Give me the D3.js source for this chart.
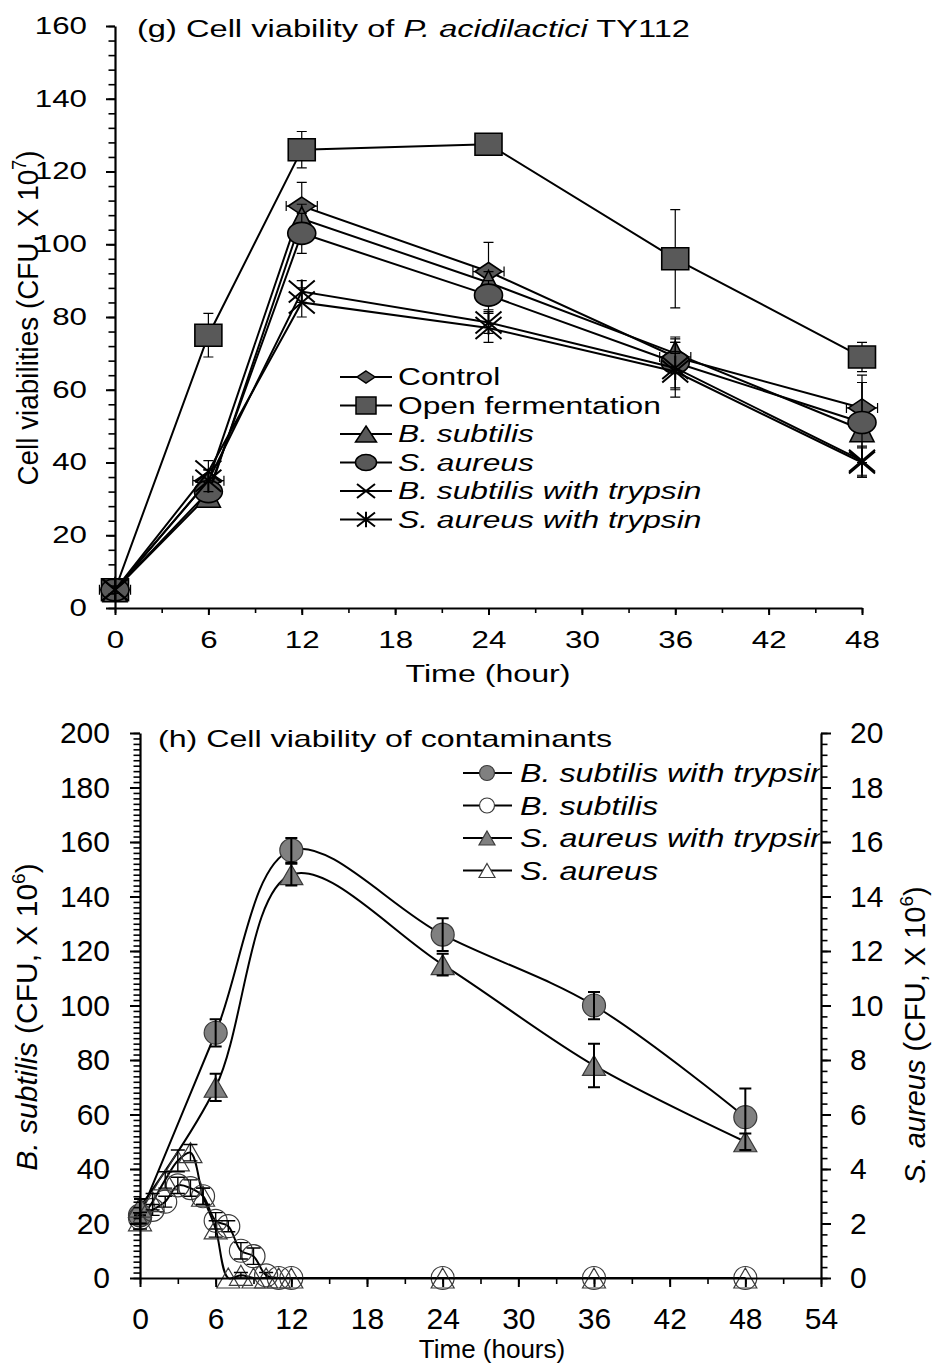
<!DOCTYPE html>
<html>
<head>
<meta charset="utf-8">
<script src="https://cdn.jsdelivr.net/npm/d3@7"></script>
<style>
body { margin: 0; background: #fff; }
text { font-family: Arial, "Liberation Sans", sans-serif; fill: #000; }
</style>
</head>
<body>
<div id="chart"></div>
<script>
// ---------- (g) cell viability of P. acidilactici TY112 ----------
const topHours = [0, 6, 12, 24, 36, 48];
const controlVals = [5, 35, 110.5, 92.5, 69, 55];
const controlErr = [1, 3, 6.5, 8, 4, 9];
const controlHourErr = [1, 1, 1, 1, 1, 1];
const openFermVals = [5, 75, 126, 127.5, 96, 69];
const openFermErr = [1, 6, 5, 1.5, 13.5, 4];
const bSubVals = [5, 31, 107, 89.5, 70, 49];
const bSubErr = [1, 2, 4, 3, 3, 13];
const sAurVals = [5, 32, 103, 86, 67.5, 51];
const sAurErr = [1, 2, 5.5, 4, 7, 11];
const bSubTrypVals = [5, 37.5, 84, 77, 65, 40];
const bSubTrypErr = [1, 3, 4, 4, 5, 4];
const sAurTrypVals = [5, 35, 87, 78.5, 66, 40.5];
const sAurTrypErr = [1, 3, 3, 3, 8, 4];
const topYTicks = [0, 20, 40, 60, 80, 100, 120, 140, 160];
const topXTicks = [0, 6, 12, 18, 24, 30, 36, 42, 48];

// ---------- (h) cell viability of contaminants ----------
const hoursFine = [0, 1, 2, 3, 4, 5, 6, 7, 8, 9, 10, 11, 12, 24, 36, 48];
const hoursMain = [0, 6, 12, 24, 36, 48];
const bSubTrypsin = [23, 90, 157, 126, 100, 59];          // left axis
const bSubTrypsinErr = [3, 5, 4.5, 6, 5, 10.5];
const bSubPlain = [22, 25, 28, 34, 33, 30, 21, 19, 10, 8, 1, 0, 0, 0, 0, 0];
const bSubPlainErr = [2, 2, 2, 3, 3, 3, 3, 2, 3, 3, 1, 0, 0, 0, 0, 0];
const sAurTrypsin = [2.6, 7.0, 14.8, 11.5, 7.8, 5.0];     // right axis
const sAurTrypsinErr = [0.3, 0.5, 0.4, 0.4, 0.8, 0.3];
const sAurPlain = [2.1, 2.8, 3.6, 4.3, 4.6, 3.0, 1.8, 0, 0.1, 0, 0, 0, 0, 0, 0, 0];
const sAurPlainErr = [0.3, 0.3, 0.3, 0.4, 0.3, 0.3, 0.3, 0, 0.1, 0, 0, 0, 0, 0, 0, 0];
const botLeftTicks = [0, 20, 40, 60, 80, 100, 120, 140, 160, 180, 200];
const botRightTicks = [0, 2, 4, 6, 8, 10, 12, 14, 16, 18, 20];
const botXTicks = [0, 6, 12, 18, 24, 30, 36, 42, 48, 54];

const svg = d3.select('#chart').append('svg')
    .attr('width', 936)
    .attr('height', 1366);
svg.append('rect').attr('width', 936).attr('height', 1366).attr('fill', '#fff');

// marker outline centred on 0,0
function shapePath(type, w, h) {
    const a = w / 2, b = h / 2;
    switch (type) {
        case 'diamond': return `M0,${-b}L${a},0L0,${b}L${-a},0Z`;
        case 'square': return `M${-a},${-b}H${a}V${b}H${-a}Z`;
        case 'triangle': return `M0,${-b}L${a},${b}L${-a},${b}Z`;
        case 'circle': return `M${-a},0A${a},${b} 0 1,0 ${a},0A${a},${b} 0 1,0 ${-a},0Z`;
        case 'x': return `M${-a},${-b}L${a},${b}M${a},${-b}L${-a},${b}`;
        case 'star': return `M${-a},${-b}L${a},${b}M${a},${-b}L${-a},${b}M0,${-b * 1.1}V${b * 1.1}`;
    }
}

// stretch text horizontally, the reference fonts are wider than they are tall
function stretch(sel, k) {
    sel.each(function () {
        const len = this.getComputedTextLength();
        d3.select(this).attr('textLength', len * k).attr('lengthAdjust', 'spacingAndGlyphs');
    });
}

function axisWithMinor(g, axisFn, scale, major, minor, majorLen, minorLen, pad) {
    g.append('g')
        .call(axisFn(scale).tickValues(minor).tickSize(minorLen).tickSizeOuter(0).tickFormat(''))
        .call(s => s.select('.domain').remove())
        .call(s => s.selectAll('line').attr('stroke-width', 1.6));
    const main = g.append('g')
        .call(axisFn(scale).tickValues(major).tickSize(majorLen).tickSizeOuter(0).tickPadding(pad));
    main.select('.domain').attr('stroke-width', 2.2);
    main.selectAll('line').attr('stroke-width', 2);
    main.attr('font-family', null).attr('font-size', null);
    return main;
}

// ================= top chart =================
const xT = d3.scaleLinear().domain([0, 48]).range([115, 862]);
const yT = d3.scaleLinear().domain([0, 160]).range([608, 26]);
const topG = svg.append('g');

const topSeries = [
    {name: 'Control', italic: false, vals: controlVals, err: controlErr, xerr: controlHourErr, shape: 'diamond', w: 27, h: 18, lw: 18, lh: 12},
    {name: 'Open fermentation', italic: false, vals: openFermVals, err: openFermErr, shape: 'square', w: 27, h: 22, lw: 20, lh: 17},
    {name: 'B. subtilis', italic: true, vals: bSubVals, err: bSubErr, shape: 'triangle', w: 24, h: 24, lw: 21, lh: 16},
    {name: 'S. aureus', italic: true, vals: sAurVals, err: sAurErr, shape: 'circle', w: 28, h: 22, lw: 21, lh: 16},
    {name: 'B. subtilis with trypsin', italic: true, vals: bSubTrypVals, err: bSubTrypErr, shape: 'x', w: 26, h: 22, lw: 18, lh: 14},
    {name: 'S. aureus with trypsin', italic: true, vals: sAurTrypVals, err: sAurTrypErr, shape: 'star', w: 26, h: 22, lw: 18, lh: 14}
];

const lineT = d3.line().x(d => xT(d[0])).y(d => yT(d[1]));

topSeries.forEach(s => {
    const pts = topHours.map((h, i) => [h, s.vals[i], s.err[i], s.xerr ? s.xerr[i] : 0]);
    const g = topG.append('g');
    g.append('path').datum(pts)
        .attr('d', lineT).attr('fill', 'none').attr('stroke', '#000').attr('stroke-width', 2);
    const eb = g.selectAll('.eb').data(pts).enter().append('g');
    eb.append('path')
        .attr('d', d => {
            const x = xT(d[0]), y1 = yT(d[1] + d[2]), y2 = yT(d[1] - d[2]);
            let p = `M${x},${y1}V${y2}M${x - 5},${y1}H${x + 5}M${x - 5},${y2}H${x + 5}`;
            if (d[3]) {
                const x1 = xT(d[0] - d[3]), x2 = xT(d[0] + d[3]), y = yT(d[1]);
                p += `M${x1},${y}H${x2}M${x1},${y - 5}V${y + 5}M${x2},${y - 5}V${y + 5}`;
            }
            return p;
        })
        .attr('fill', 'none').attr('stroke', '#000').attr('stroke-width', 1.2);
    g.selectAll('.mk').data(pts).enter().append('path')
        .attr('transform', d => `translate(${xT(d[0])},${yT(d[1])})`)
        .attr('d', shapePath(s.shape, s.w, s.h))
        .attr('fill', s.shape === 'x' || s.shape === 'star' ? 'none' : '#595959')
        .attr('stroke', '#000')
        .attr('stroke-width', s.shape === 'x' || s.shape === 'star' ? 2 : 1.6);
});

// top axes
const topYAxis = axisWithMinor(topG.append('g').attr('transform', `translate(${xT(0)},0)`),
    d3.axisLeft, yT, topYTicks, d3.range(0, 161, 4), 9, 6.5, 19);
topYAxis.selectAll('text').attr('font-size', 23).call(stretch, 1.36);
const topXAxis = axisWithMinor(topG.append('g').attr('transform', `translate(0,${yT(0)})`),
    d3.axisBottom, xT, topXTicks, d3.range(0, 49, 3), 7, 5, 17);
topXAxis.selectAll('text').attr('font-size', 23).call(stretch, 1.36);

const topTitle = topG.append('text').attr('x', 137).attr('y', 37).attr('font-size', 23);
topTitle.append('tspan').text('(g) Cell viability of ');
topTitle.append('tspan').attr('font-style', 'italic').text('P. acidilactici');
topTitle.append('tspan').text(' TY112');
topTitle.attr('textLength', 553).attr('lengthAdjust', 'spacingAndGlyphs');

topG.append('text')
    .attr('x', 488).attr('y', 682).attr('text-anchor', 'middle').attr('font-size', 23)
    .text('Time (hour)')
    .attr('textLength', 165).attr('lengthAdjust', 'spacingAndGlyphs');

const topYLabel = topG.append('text')
    .attr('transform', 'translate(38,318) scale(1.3,1) rotate(-90)')
    .attr('text-anchor', 'middle').attr('font-size', 23);
topYLabel.append('tspan').text('Cell viabilities (CFU, X 10');
topYLabel.append('tspan').attr('font-size', 15).attr('dy', -9).text('7');
topYLabel.append('tspan').attr('dy', 9).text(')');
topYLabel.attr('textLength', 335).attr('lengthAdjust', 'spacingAndGlyphs');

// top legend
const topLegend = topG.append('g');
const topRowsY = [377, 405.5, 434, 462.5, 491, 519.5];
topSeries.forEach((s, i) => {
    const row = topLegend.append('g').attr('transform', `translate(0,${topRowsY[i]})`);
    row.append('line').attr('x1', 340).attr('x2', 392).attr('stroke', '#000').attr('stroke-width', 2);
    row.append('path')
        .attr('transform', 'translate(366,0)')
        .attr('d', shapePath(s.shape, s.lw, s.lh))
        .attr('fill', s.shape === 'x' || s.shape === 'star' ? 'none' : '#595959')
        .attr('stroke', '#000').attr('stroke-width', s.shape === 'x' || s.shape === 'star' ? 2 : 1.5);
    row.append('text').attr('x', 398).attr('y', 8).attr('font-size', 23)
        .attr('font-style', s.italic ? 'italic' : null)
        .text(s.name)
        .call(stretch, 1.38);
});

// ================= bottom chart =================
const xB = d3.scaleLinear().domain([0, 54]).range([140, 821]);
const yL = d3.scaleLinear().domain([0, 200]).range([1278, 733]);
const yR = d3.scaleLinear().domain([0, 20]).range([1278, 733]);
const botG = svg.append('g');

const botSeries = [
    {name: 'B. subtilis with trypsin', hours: hoursMain, vals: bSubTrypsin, err: bSubTrypsinErr, y: yL, shape: 'circle', filled: true},
    {name: 'B. subtilis', hours: hoursFine, vals: bSubPlain, err: bSubPlainErr, y: yL, shape: 'circle', filled: false},
    {name: 'S. aureus with trypsin', hours: hoursMain, vals: sAurTrypsin, err: sAurTrypsinErr, y: yR, shape: 'triangle', filled: true},
    {name: 'S. aureus', hours: hoursFine, vals: sAurPlain, err: sAurPlainErr, y: yR, shape: 'triangle', filled: false}
];

botSeries.forEach(s => {
    const pts = s.hours.map((h, i) => [h, s.vals[i], s.err[i]]);
    const line = d3.line().x(d => xB(d[0])).y(d => s.y(d[1])).curve(d3.curveCatmullRom.alpha(0.5));
    s.pts = pts;
    botG.append('path').datum(pts)
        .attr('d', line).attr('fill', 'none').attr('stroke', '#000').attr('stroke-width', 2);
});

botSeries.forEach(s => {
    const g = botG.append('g');
    g.selectAll('.mk').data(s.pts).enter().append('path')
        .attr('transform', d => `translate(${xB(d[0])},${s.y(d[1])})`)
        .attr('d', s.shape === 'circle' ? shapePath('circle', 23, 23) : shapePath('triangle', 23, 20))
        .attr('fill', s.filled ? '#808080' : 'none')
        .attr('stroke', '#3a3a3a').attr('stroke-width', 1.2);
    g.selectAll('.eb').data(s.pts.filter(d => d[2] > 0)).enter().append('path')
        .attr('d', d => {
            const x = xB(d[0]), y1 = s.y(d[1] + d[2]), y2 = s.y(d[1] - d[2]);
            const c = s.filled ? 6 : 7;
            return `M${x},${y1}V${y2}M${x - c},${y1}H${x + c}M${x - c},${y2}H${x + c}`;
        })
        .attr('fill', 'none').attr('stroke', '#000').attr('stroke-width', s.filled ? 2 : 1.4);
});

const botLeft = axisWithMinor(botG.append('g').attr('transform', `translate(${xB(0)},0)`),
    d3.axisLeft, yL, botLeftTicks, d3.range(0, 201, 2), 10, 6.5, 20);
botLeft.selectAll('text').attr('font-size', 30);
const botRight = axisWithMinor(botG.append('g').attr('transform', `translate(${xB(54)},0)`),
    d3.axisRight, yR, botRightTicks, d3.range(0, 20.01, 0.4), 10, 6.5, 19);
botRight.selectAll('text').attr('font-size', 30);
const botX = axisWithMinor(botG.append('g').attr('transform', `translate(0,${yL(0)})`),
    d3.axisBottom, xB, botXTicks, d3.range(0, 55, 3), 9, 6, 21);
botX.selectAll('text').attr('font-size', 30);

botG.append('text')
    .attr('x', 158).attr('y', 747).attr('font-size', 24)
    .text('(h) Cell viability of contaminants')
    .attr('textLength', 454).attr('lengthAdjust', 'spacingAndGlyphs');

botG.append('text')
    .attr('x', 492).attr('y', 1358).attr('text-anchor', 'middle').attr('font-size', 26)
    .text('Time (hours)');

const leftLabel = botG.append('text')
    .attr('transform', 'translate(37,1017) rotate(-90)')
    .attr('text-anchor', 'middle').attr('font-size', 30);
leftLabel.append('tspan').attr('font-style', 'italic').text('B. subtilis');
leftLabel.append('tspan').text(' (CFU, X 10');
leftLabel.append('tspan').attr('font-size', 19).attr('dy', -12).text('6');
leftLabel.append('tspan').attr('dy', 12).text(')');

const rightLabel = botG.append('text')
    .attr('transform', 'translate(925,1035) rotate(-90)')
    .attr('text-anchor', 'middle').attr('font-size', 29);
rightLabel.append('tspan').attr('font-style', 'italic').text('S. aureus');
rightLabel.append('tspan').text(' (CFU, X 10');
rightLabel.append('tspan').attr('font-size', 19).attr('dy', -12).text('6');
rightLabel.append('tspan').attr('dy', 12).text(')');

// bottom legend, clipped at the right axis like the reference
svg.append('clipPath').attr('id', 'legclip')
    .append('rect').attr('x', 0).attr('y', 700).attr('width', xB(54) - 1).attr('height', 300);
const botLegend = botG.append('g').attr('clip-path', 'url(#legclip)');
const botRowsY = [773, 805.5, 838, 870.5];
botSeries.forEach((s, i) => {
    const row = botLegend.append('g').attr('transform', `translate(0,${botRowsY[i]})`);
    row.append('line').attr('x1', 463).attr('x2', 512).attr('stroke', '#000').attr('stroke-width', 2);
    row.append('path')
        .attr('transform', 'translate(487,0)')
        .attr('d', s.shape === 'circle' ? shapePath('circle', 15, 15) : shapePath('triangle', 16, 14))
        .attr('fill', s.filled ? '#808080' : '#fff')
        .attr('stroke', '#3a3a3a').attr('stroke-width', 1.2);
    row.append('text').attr('x', 520).attr('y', 9).attr('font-size', 25)
        .attr('font-style', 'italic')
        .text(s.name)
        .call(stretch, 1.29);
});
</script>
</body>
</html>
